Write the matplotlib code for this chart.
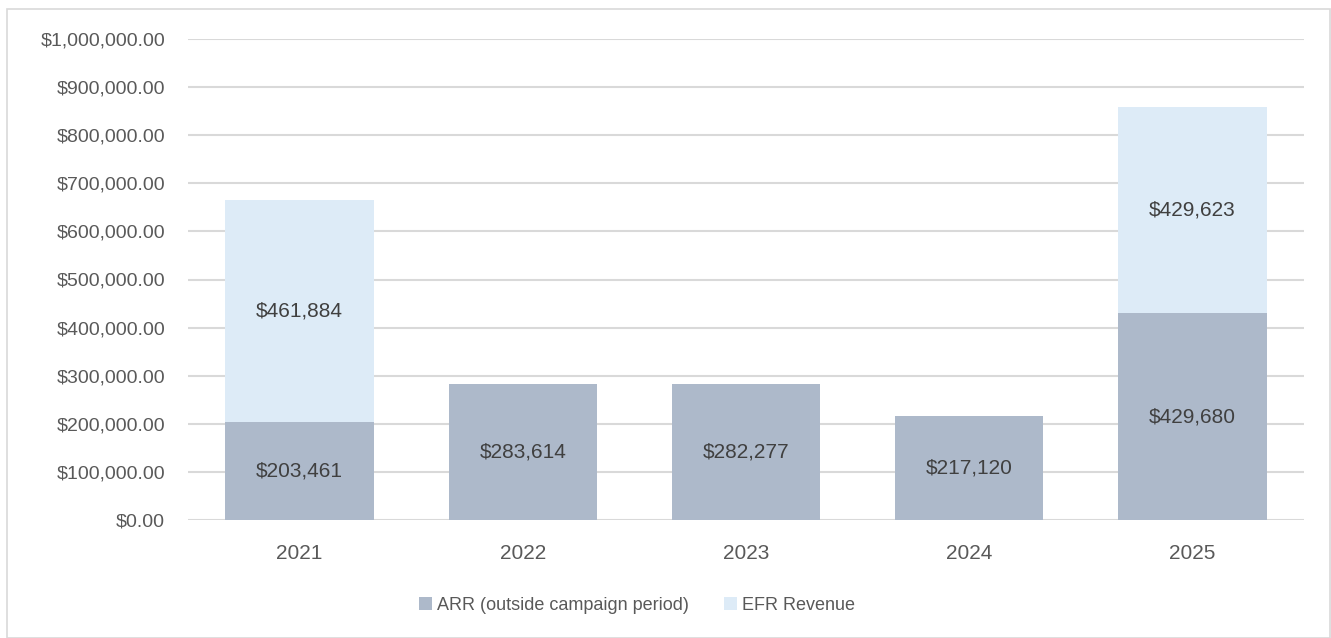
import numpy as np
import matplotlib.pyplot as plt
from matplotlib.patches import Rectangle
from matplotlib.ticker import FuncFormatter

years = ['2021', '2022', '2023', '2024', '2025']
arr = [203461, 283614, 282277, 217120, 429680]
efr = [461884, 0, 0, 0, 429623]
series_names = ['ARR (outside campaign period)', 'EFR Revenue']

ARR_COLOR = '#ADB9CA'
EFR_COLOR = '#DDEBF7'
TEXT = '#595959'

plt.rcParams['font.family'] = ['Liberation Sans', 'DejaVu Sans']

fig = plt.figure(figsize=(13.31, 6.38), dpi=100)
ax = fig.add_axes([188 / 1331, 1 - 520 / 638, (1304 - 188) / 1331, (520 - 39) / 638])

# light frame round the whole chart
fig.patches.append(Rectangle((7 / 1331, 0.0), 1 - 8 / 1331, 1 - 9 / 638,
                             transform=fig.transFigure, fill=False,
                             edgecolor='#D9D9D9', linewidth=1.2))

x = np.arange(len(years))
w = 0.665
ax.bar(x, arr, w, color=ARR_COLOR, label=series_names[0], zorder=3)
ax.bar(x, efr, w, bottom=arr, color=EFR_COLOR, label=series_names[1], zorder=3)

for i in range(len(years)):
    ax.text(x[i], arr[i] / 2, f'${arr[i]:,}', ha='center', va='center',
            fontsize=15, color='#404040', zorder=4)
    if efr[i] > 0:
        ax.text(x[i], arr[i] + efr[i] / 2, f'${efr[i]:,}', ha='center', va='center',
                fontsize=15, color='#404040', zorder=4)

ax.set_xlim(-0.5, len(years) - 0.5)
ax.set_ylim(0, 1000000)
ax.set_yticks(np.arange(0, 1000001, 100000))
ax.yaxis.set_major_formatter(FuncFormatter(lambda v, p: f'${v:,.2f}'))
ax.set_xticks(x)
ax.set_xticklabels(years)
ax.tick_params(length=0, labelcolor=TEXT)
ax.tick_params(axis='y', pad=16.5, labelsize=14)
ax.tick_params(axis='x', pad=17, labelsize=15)
ax.grid(axis='y', color='#D9D9D9', linewidth=1.5, zorder=0)
for s in ax.spines.values():
    s.set_visible(False)

leg = fig.legend(loc='center', bbox_to_anchor=(637 / 1331, 1 - 605 / 638), ncol=2,
                 frameon=False, fontsize=13, handlelength=0.7, handleheight=0.7,
                 handletextpad=0.3, columnspacing=1.95)
for t in leg.get_texts():
    t.set_color(TEXT)

fig.savefig('out.png', dpi=100)
